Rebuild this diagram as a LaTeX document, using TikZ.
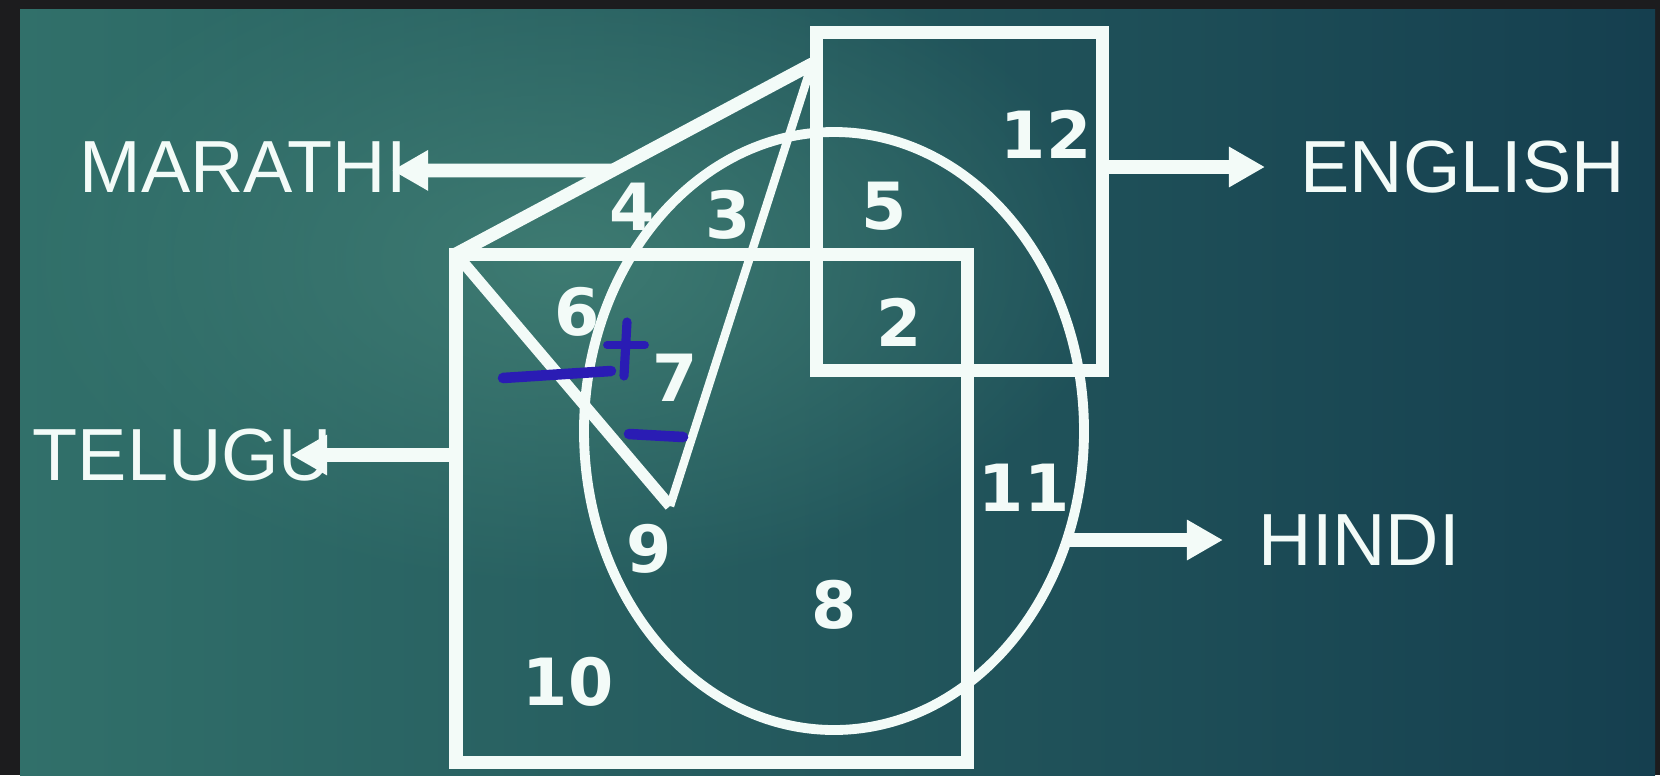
\documentclass[tikz,border=0pt]{standalone}
\usepackage{fontspec}
\setmainfont{Liberation Sans}
\newfontfamily\regionfont{DejaVu Sans}
\usetikzlibrary{calc,arrows.meta,positioning,fadings}
\definecolor{frame}{HTML}{1C1C1E}
\definecolor{boardL}{HTML}{31706A}
\definecolor{boardM}{HTML}{2C6763}
\definecolor{boardR}{HTML}{153F4F}
\definecolor{glow}{HTML}{3E7B72}
\definecolor{chalk}{HTML}{F3FBF8}
\definecolor{pen}{HTML}{2A1CB4}
\tikzfading[name=glowfade, inner color=transparent!0, outer color=transparent!100]
\tikzstyle{edge} = [draw=chalk, line width=3.7pt]
\tikzstyle{curve} = [draw=chalk, line width=2.8pt]
\tikzstyle{thinedge} = [draw=chalk, line width=2.4pt]
\tikzstyle{num} = [text=chalk, font=\regionfont\fontsize{18.5}{20}\selectfont\bfseries, inner sep=0pt]
\tikzstyle{lang} = [text=chalk, font=\fontsize{21}{25}\selectfont, inner sep=0pt]
\tikzstyle{arrow} = [draw=chalk, line width=3.9pt, -{Triangle[length=0.36cm,width=0.38cm,fill=chalk]}]
\tikzstyle{scribble} = [draw=pen, line width=2.6pt, line cap=round]

\begin{document}
\begin{tikzpicture}[x=0.01cm,y=-0.01cm]
	\useasboundingbox (0,0) rectangle (1660,775);

	%% board
	\fill[frame] (0,0) rectangle (1660,775);
	\fill[left color=boardL, middle color=boardM, right color=boardR] (20,9) rectangle (1655,775);
	\begin{scope}
	  \clip (20,9) rectangle (1655,775);
	  \fill[glow, path fading=glowfade, fit fading=true] (560,260) ellipse [x radius=560, y radius=330];
	\end{scope}

	%% corners of the figures
	\coordinate (E1) at (816,32);   % english, top left
	\coordinate (E2) at (1102,370); % english, bottom right
	\coordinate (T1) at (456,254);  % telugu, top left
	\coordinate (T2) at (967,762);  % telugu, bottom right
	\coordinate (M1) at (812,64);   % marathi, apex
	\coordinate (M2) at (456,254);  % marathi, left corner
	\coordinate (M3) at (670,506);  % marathi, bottom corner
	\coordinate (H0) at (834,431);  % hindi, centre

	%% the four sets
	\draw[curve] (H0) ellipse [x radius=250, y radius=299];
	\draw[edge] (E1) rectangle (E2);
	\draw[edge] (T1) rectangle (T2);
	\draw[edge, line cap=round] (M2) -- (M1);
	\draw[edge, line width=3.2pt] (M2) -- (M3);
	\draw[thinedge, line join=round] (M3) -- (M1);

	%% names
	\node[lang, anchor=west] (marathi) at (79,167) {MARATHI};
	\node[lang, anchor=west] (telugu) at (32,455) {TELUGU};
	\node[lang, anchor=west] (english) at (1300,167) {ENGLISH};
	\node[lang, anchor=west] (hindi) at (1258,540) {HINDI};

	% where the arrows start and end
	\coordinate (mS) at ($(M2)!.44!(M1)$);
	\coordinate (mT) at (392,170.4);
	\coordinate (tS) at (456,455);
	\coordinate (tT) at (291,455);
	\coordinate (eS) at (1102,167);
	\coordinate (eT) at (1265,167);
	\coordinate (hS) at (1067,540);
	\coordinate (hT) at (1223,540);

	\draw[arrow] (mS) -- (mT);
	\draw[arrow] (tS) -- (tT);
	\draw[arrow] (eS) -- (eT);
	\draw[arrow] (hS) -- (hT);

	%% regions
	\node[num] (r12) at (1046,134) {12};
	\node[num] (r5) at (884,206) {5};
	\node[num] (r4) at (632,207) {4};
	\node[num] (r3) at (728,215) {3};
	\node[num] (r6) at (577,312) {6};
	\node[num] (r2) at (899,322) {2};
	\node[num] (r7) at (675,378) {7};
	\node[num] (r11) at (1024,488) {11};
	\node[num] (r9) at (649,549) {9};
	\node[num] (r8) at (834,605) {8};
	\node[num] (r10) at (568,682) {10};

	%% pen marks
	\draw[scribble, line width=3pt] (503,378) -- (611,371);
	\draw[scribble] (627,322) -- (624,376);
	\draw[scribble, line width=2.2pt] (607,345) -- (645,345);
	\draw[scribble, line width=3pt] (629,434) -- (683,437);
\end{tikzpicture}
\end{document}
